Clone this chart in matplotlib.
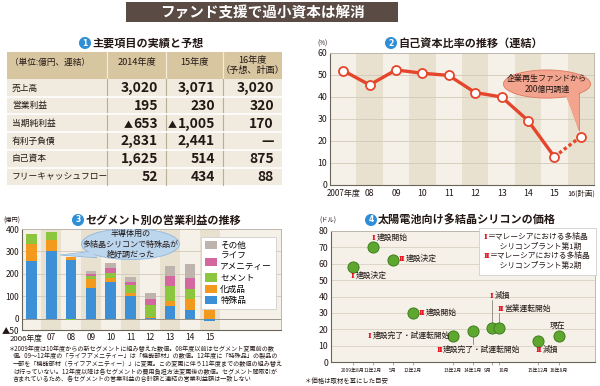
import matplotlib
matplotlib.use('Agg')
import matplotlib.pyplot as plt
from matplotlib.patches import Rectangle, Ellipse, Polygon, Patch
from matplotlib.offsetbox import TextArea, HPacker, VPacker, AnnotationBbox

plt.rcParams['font.family'] = ['Noto Sans CJK JP', 'DejaVu Sans']
INK = '#231815'

W, H = 600, 386

# --- 1: table
table_head = ['（単位:億円、連結）', '2014年度', '15年度', '16年度\n（予想、計画）']
table_rows = ['売上高', '営業利益', '当期純利益', '有利子負債', '自己資本', 'フリーキャッシュフロー']
table_2014 = ['3,020', '195', '▲653', '2,831', '1,625', '52']
table_2015 = ['3,071', '230', '▲1,005', '2,441', '514', '434']
table_2016 = ['3,020', '320', '170', '—', '875', '88']

# --- 2: equity ratio (%)
ratio_years = ['2007年度', '08', '09', '10', '11', '12', '13', '14', '15', '16(計画)']
ratio_values = [52.0, 45.5, 52.3, 50.8, 49.8, 42.0, 40.0, 29.3, 12.8, 22.0]

# --- 3: segment operating profit (億円)
seg_years = ['2006年度', '07', '08', '09', '10', '11', '12', '13', '14', '15']
seg_special = [256, 302, 262, 137, 162, 101, 3, 59, 39, -12]
seg_chemical = [79, 47, 12, 40, 21, 16, 3, 22, 51, 86]
seg_cement = [44, 36, -5, 14, 21, 32, 54, 65, 42, 58]
seg_life = [0, 0, 0, 9, 21, 16, 27, 45, 51, 65]
seg_other = [0, 0, 0, 15, 22, 21, 26, 44, 61, 56]
seg_names = ['特殊品', '化成品', 'セメント', 'ライフ\nアメニティー', 'その他']
seg_colors = ['#3d8fd6', '#f39a1e', '#8cc63f', '#d4679f', '#bfb3ad']

# --- 4: polysilicon price (ドル)
si_pos = [1, 2, 3, 4, 6, 7, 7.95, 8.3, 10.25, 11.3]
si_ticks = ['2009年8月', '11年2月', '5月', '12年2月', '13年2月', '14年1月', '9月', '10月', '15年12月', '16年8月']
si_price = [58, 70, 62, 30, 16, 19, 21, 21, 13, 16]
si_labels = [
    (0.9, 52.5, 'Ⅰ', '建設決定'),
    (1.95, 75.7, 'Ⅰ', '建設開始'),
    (3.3, 62.9, 'Ⅱ', '建設決定'),
    (4.3, 30.1, 'Ⅱ', '建設開始'),
    (1.75, 15.9, 'Ⅰ', '建設完了・試運転開始'),
    (5.18, 7.3, 'Ⅱ', '建設完了・試運転開始'),
    (7.85, 40.5, 'Ⅰ', '減損'),
    (8.25, 32.4, 'Ⅱ', '営業運転開始'),
    (10.15, 7.3, 'Ⅱ', '減損'),
    (10.85, 21.4, '', '現在'),
]


def rect(x0, y0, x1, y1):
    return [x0 / W, 1 - y1 / H, (x1 - x0) / W, (y1 - y0) / H]


fig = plt.figure(figsize=(6, 3.86), dpi=100)
bg = fig.add_axes([0, 0, 1, 1])
bg.set_xlim(0, W)
bg.set_ylim(H, 0)
bg.axis('off')

# main title
bg.add_patch(Rectangle((126, 2), 272, 20, fc='#5a4b44', ec='none'))
bg.text(262, 12.5, 'ファンド支援で過小資本は解消', ha='center', va='center',
        color='white', fontsize=10.5, fontweight='bold')


def badge(x, y, n):
    bg.text(x, y, n, ha='center', va='center', color='white', fontsize=5.5,
            fontweight='bold', family=['DejaVu Sans'],
            bbox=dict(boxstyle='circle,pad=0.2', fc='#2f8fd6', ec='none'))


def panel_title(x, y, n, s):
    badge(x, y, n)
    bg.text(x + 7, y, s, ha='left', va='center', fontsize=8, fontweight='bold', color=INK)


panel_title(85, 43, '1', '主要項目の実績と予想')
panel_title(391, 43, '2', '自己資本比率の推移（連結）')
panel_title(78, 220, '3', 'セグメント別の営業利益の推移')
panel_title(371, 220, '4', '太陽電池向け多結晶シリコンの価格')

# table
cols = [7, 107, 166, 223, 282]
top, head_bot, row_h = 52, 79, 17.7
bg.add_patch(Rectangle((cols[0], top), cols[-1] - cols[0], head_bot - top, fc='#d7c6a0', ec='none'))
bg.add_patch(Rectangle((cols[0], head_bot), cols[-1] - cols[0], row_h * 6, fc='#f0ebde', ec='none'))
for x in cols[1:-1]:
    bg.plot([x, x], [top, head_bot], color='#f3ecdc', lw=0.9)
    bg.plot([x, x], [head_bot, head_bot + row_h * 6], color='#b9ad93', lw=0.8)
for i in range(1, 6):
    y = head_bot + row_h * i
    bg.plot([cols[0], cols[-1]], [y, y], color='white', lw=1.2)
bg.text(10, 62, table_head[0], ha='left', va='center', fontsize=6.2, color=INK)
for j in range(1, 4):
    cx = (cols[j] + cols[j + 1]) / 2
    bg.text(cx, 65.5 if j == 3 else 62, table_head[j], ha='center', va='center',
            fontsize=6.6, color=INK, linespacing=1.05)


def table_value(x, y, s):
    kids = []
    if s.startswith('▲'):
        kids.append(TextArea('▲', textprops=dict(color=INK, fontsize=6.5, fontweight='bold')))
        s = s[1:]
    kids.append(TextArea(s, textprops=dict(color=INK, fontsize=10, fontweight='bold')))
    box = HPacker(children=kids, align='baseline', pad=0, sep=0.3)
    bg.add_artist(AnnotationBbox(box, (x, y), xycoords='data', box_alignment=(1, 0.5),
                                 frameon=False, pad=0))


for i, name in enumerate(table_rows):
    cy = head_bot + row_h * (i + 0.5)
    bg.text(12, cy, name, ha='left', va='center', fontsize=6.3, color=INK)
    for j, col in enumerate([table_2014, table_2015, table_2016]):
        table_value(cols[j + 2] - 8, cy + 0.5, col[i])

# --- chart 2
ax2 = fig.add_axes(rect(330, 53, 594, 185))
ax2.set_facecolor('#f5f1e8')
n2 = len(ratio_values)
for i in range(n2):
    if i % 2 == 1:
        ax2.axvspan(i - 0.5, i + 0.5, color='#e9e1cf', lw=0, zorder=0)
for v in range(10, 60, 10):
    ax2.axhline(v, color='#d2cab8', lw=0.6, zorder=1)
ax2.plot(range(n2 - 1), ratio_values[:-1], color='#e5452a', lw=2.4, zorder=3)
ax2.plot([n2 - 2, n2 - 1], ratio_values[-2:], color='#e5452a', lw=2.4, ls=(0, (1, 0.8)), zorder=3)
ax2.plot(range(n2), ratio_values, 'o', ms=6.5, mfc='white', mec='#e5452a', mew=1.3, zorder=4)
ax2.set_xlim(-0.5, n2 - 0.5)
ax2.set_ylim(0, 60)
ax2.set_yticks(range(0, 61, 10))
ax2.set_xticks(range(n2))
ax2.set_xticklabels(ratio_years)
ax2.tick_params(length=0, labelsize=6.3, pad=2, colors=INK)
ax2.tick_params(axis='x', pad=3)
xl2 = ax2.get_xticklabels()
xl2[0].set_fontsize(5.8)
xl2[-1].set_fontsize(5.3)
for s in ['top', 'right']:
    ax2.spines[s].set_color('#bdb7ab')
    ax2.spines[s].set_linewidth(0.7)
for s in ['left', 'bottom']:
    ax2.spines[s].set_color('#6b6459')
    ax2.spines[s].set_linewidth(0.8)
ax2.add_patch(Polygon([[8.45, 41.5], [8.95, 43.5], [8.95, 24.5]], closed=True,
                      fc='#f2a48e', ec='#e07a60', lw=0.6, zorder=5))
ax2.add_patch(Ellipse((7.72, 45.9), 3.3, 12.8, fc='#f2a48e', ec='#e07a60', lw=0.6, zorder=5))
ax2.add_patch(Polygon([[8.4, 41.6], [8.9, 43.4], [8.92, 25.2]], closed=True,
                      fc='#f2a48e', ec='none', zorder=6))
ax2.text(7.72, 45.9, '企業再生ファンドから\n200億円調達', ha='center', va='center',
         fontsize=5.8, color=INK, linespacing=1.2, zorder=7)
bg.text(323, 44, '(%)', ha='center', va='center', fontsize=4.5, color=INK)

# --- chart 3
ax3 = fig.add_axes(rect(22, 229, 281, 330))
ax3.set_facecolor('#f5f1e8')
n3 = len(seg_years)
for i in range(n3):
    if i % 2 == 1:
        ax3.axvspan(i - 0.5, i + 0.5, color='#e9e1cf', lw=0, zorder=0)
for v in [100, 200, 300]:
    ax3.axhline(v, color='#d2cab8', lw=0.6, zorder=1)
ax3.axhline(0, color='#9a9388', lw=0.7, zorder=1)
pos_cum = [0] * n3
neg_cum = [0] * n3
series = [seg_special, seg_chemical, seg_cement, seg_life, seg_other]
for vals, col in zip(series, seg_colors):
    bottoms = []
    for k, v in enumerate(vals):
        if v >= 0:
            bottoms.append(pos_cum[k])
            pos_cum[k] += v
        else:
            bottoms.append(neg_cum[k])
            neg_cum[k] += v
    ax3.bar(range(n3), vals, bottom=bottoms, width=0.53, color=col, lw=0, zorder=3)
ax3.set_xlim(-0.48, 12.6)
ax3.set_ylim(-50, 400)
ax3.set_yticks([-50, 0, 100, 200, 300, 400])
ax3.set_yticklabels(['▲50', '0', '100', '200', '300', '400'])
ax3.set_xticks(range(n3))
ax3.set_xticklabels([''] + seg_years[1:])
ax3.text(0.55, -0.045, seg_years[0], transform=ax3.get_xaxis_transform(), ha='right', va='top',
         fontsize=5.6, color=INK)
ax3.tick_params(length=0, labelsize=6, pad=2, colors=INK)
for s in ['top', 'right']:
    ax3.spines[s].set_color('#bdb7ab')
    ax3.spines[s].set_linewidth(0.7)
for s in ['left', 'bottom']:
    ax3.spines[s].set_color('#6b6459')
    ax3.spines[s].set_linewidth(0.8)
handles = [Patch(fc=c, ec='none') for c in seg_colors][::-1]
leg = ax3.legend(handles, seg_names[::-1], loc='upper right', bbox_to_anchor=(0.997, 0.965),
                 fontsize=6.2, handlelength=1.4, handleheight=1.1, labelspacing=0.25,
                 handletextpad=0.4, borderpad=0.45, fancybox=False, edgecolor='#cfcfcf',
                 framealpha=1)
leg.get_frame().set_linewidth(0.6)
leg.set_zorder(8)
ax3.add_patch(Polygon([[3.0, 300], [3.3, 272], [1.45, 284]], closed=True,
                      fc='#bcd6ee', ec='#8fb6dc', lw=0.6, zorder=5))
ax3.add_patch(Ellipse((5.0, 333), 4.95, 138, fc='#bcd6ee', ec='#8fb6dc', lw=0.6, zorder=5))
ax3.add_patch(Polygon([[3.05, 298], [3.3, 275], [1.55, 285]], closed=True,
                      fc='#bcd6ee', ec='none', zorder=6))
ax3.text(5.0, 333, '半導体用の\n多結晶シリコンで特殊品が\n絶好調だった', ha='center', va='center',
         fontsize=5.8, color=INK, linespacing=1.2, zorder=7)
bg.text(12, 221, '(億円)', ha='center', va='center', fontsize=4.5, color=INK)

notes3 = [
    '＊2009年度は10年度からの新セグメントに組み替えた数値。08年度以前はセグメント変更前の数',
    '値。09～12年度の「ライフアメニティー」は「機能部材」の数値。12年度に「特殊品」の製品の',
    '一部を「機能部材（ライフアメニティー）」に変更。この変更に伴う11年度までの数値の組み替え',
    'は行っていない。12年度以降は各セグメントの費用負担方法変更後の数値。セグメント間取引が',
    '含まれているため、各セグメントの営業利益の合計額と連結の営業利益額は一致しない',
]
for i, line in enumerate(notes3):
    bg.text(8 if i == 0 else 13, 349 + i * 7.6, line, ha='left', va='center', fontsize=4.4, color=INK)

# --- chart 4
ax4 = fig.add_axes(rect(331, 231, 595, 362))
ax4.set_facecolor('#f5f1e8')
for v in range(10, 80, 10):
    ax4.axhline(v, color='#d8d1c0', lw=0.6, zorder=1)
ax4.plot([si_pos[5], si_pos[5]], [si_price[5], 11], color='#8a857c', lw=0.6, zorder=2)
ax4.plot([si_pos[6], si_pos[6]], [si_price[6], 38], color='#8a857c', lw=0.6, zorder=2)
ax4.plot([si_pos[7], si_pos[7]], [si_price[7], 30], color='#8a857c', lw=0.6, zorder=2)
ax4.plot(si_pos, si_price, 'o', ms=8, mfc='#5ea72f', mec='#3f7d1f', mew=0.7, zorder=4)
ax4.set_xlim(-0.1, 13.1)
ax4.set_ylim(0, 80)
ax4.set_yticks(range(0, 81, 10))
ax4.set_xticks(si_pos)
ax4.set_xticklabels(si_ticks)
ax4.tick_params(axis='y', length=0, labelsize=6.3, pad=2, colors=INK)
ax4.tick_params(axis='x', length=2, width=0.5, color='#8a857c', labelsize=3.6, pad=2, colors=INK)
for lab in ax4.get_xticklabels():
    if lab.get_text() == '9月':
        lab.set_horizontalalignment('right')
    if lab.get_text() == '10月':
        lab.set_horizontalalignment('left')
for s in ['top', 'right']:
    ax4.spines[s].set_color('#bdb7ab')
    ax4.spines[s].set_linewidth(0.7)
for s in ['left', 'bottom']:
    ax4.spines[s].set_color('#6b6459')
    ax4.spines[s].set_linewidth(0.8)


def rlabel(ax, x, y, num, body, fs=5.6):
    kids = []
    if num:
        kids.append(TextArea(num, textprops=dict(color='#e60012', fontsize=fs, fontweight='bold',
                                                 family=['DejaVu Serif'])))
    kids.append(TextArea(body, textprops=dict(color=INK, fontsize=fs)))
    box = HPacker(children=kids, align='center', pad=0, sep=0.5)
    ab = AnnotationBbox(box, (x, y), xycoords='data', box_alignment=(0, 0.5),
                        frameon=False, pad=0, zorder=6)
    ax.add_artist(ab)


for x, y, num, body in si_labels:
    rlabel(ax4, x, y, num, body)

legend_rows = []
for num, phase in [('Ⅰ', '第1期'), ('Ⅱ', '第2期')]:
    legend_rows.append(HPacker(children=[
        TextArea(num, textprops=dict(color='#e60012', fontsize=5.6, fontweight='bold',
                                     family=['DejaVu Serif'])),
        TextArea('＝マレーシアにおける多結晶', textprops=dict(color=INK, fontsize=5.6))],
        align='center', pad=0, sep=0.5))
    legend_rows.append(TextArea('　　シリコンプラント' + phase, textprops=dict(color=INK, fontsize=5.6)))
vbox = VPacker(children=legend_rows, align='left', pad=0, sep=1.2)
ab = AnnotationBbox(vbox, (0.985, 0.985), xycoords='axes fraction', box_alignment=(1, 1),
                    frameon=True, pad=0.35,
                    bboxprops=dict(fc='white', ec='#cfcfcf', lw=0.6, boxstyle='square,pad=0.35'),
                    zorder=7)
ax4.add_artist(ab)
bg.text(328, 221, '(ドル)', ha='center', va='center', fontsize=4.5, color=INK)
bg.text(305, 381, '＊価格は取材を基にした目安', ha='left', va='center', fontsize=4.6, color=INK)

fig.savefig('out.png', dpi=100)
